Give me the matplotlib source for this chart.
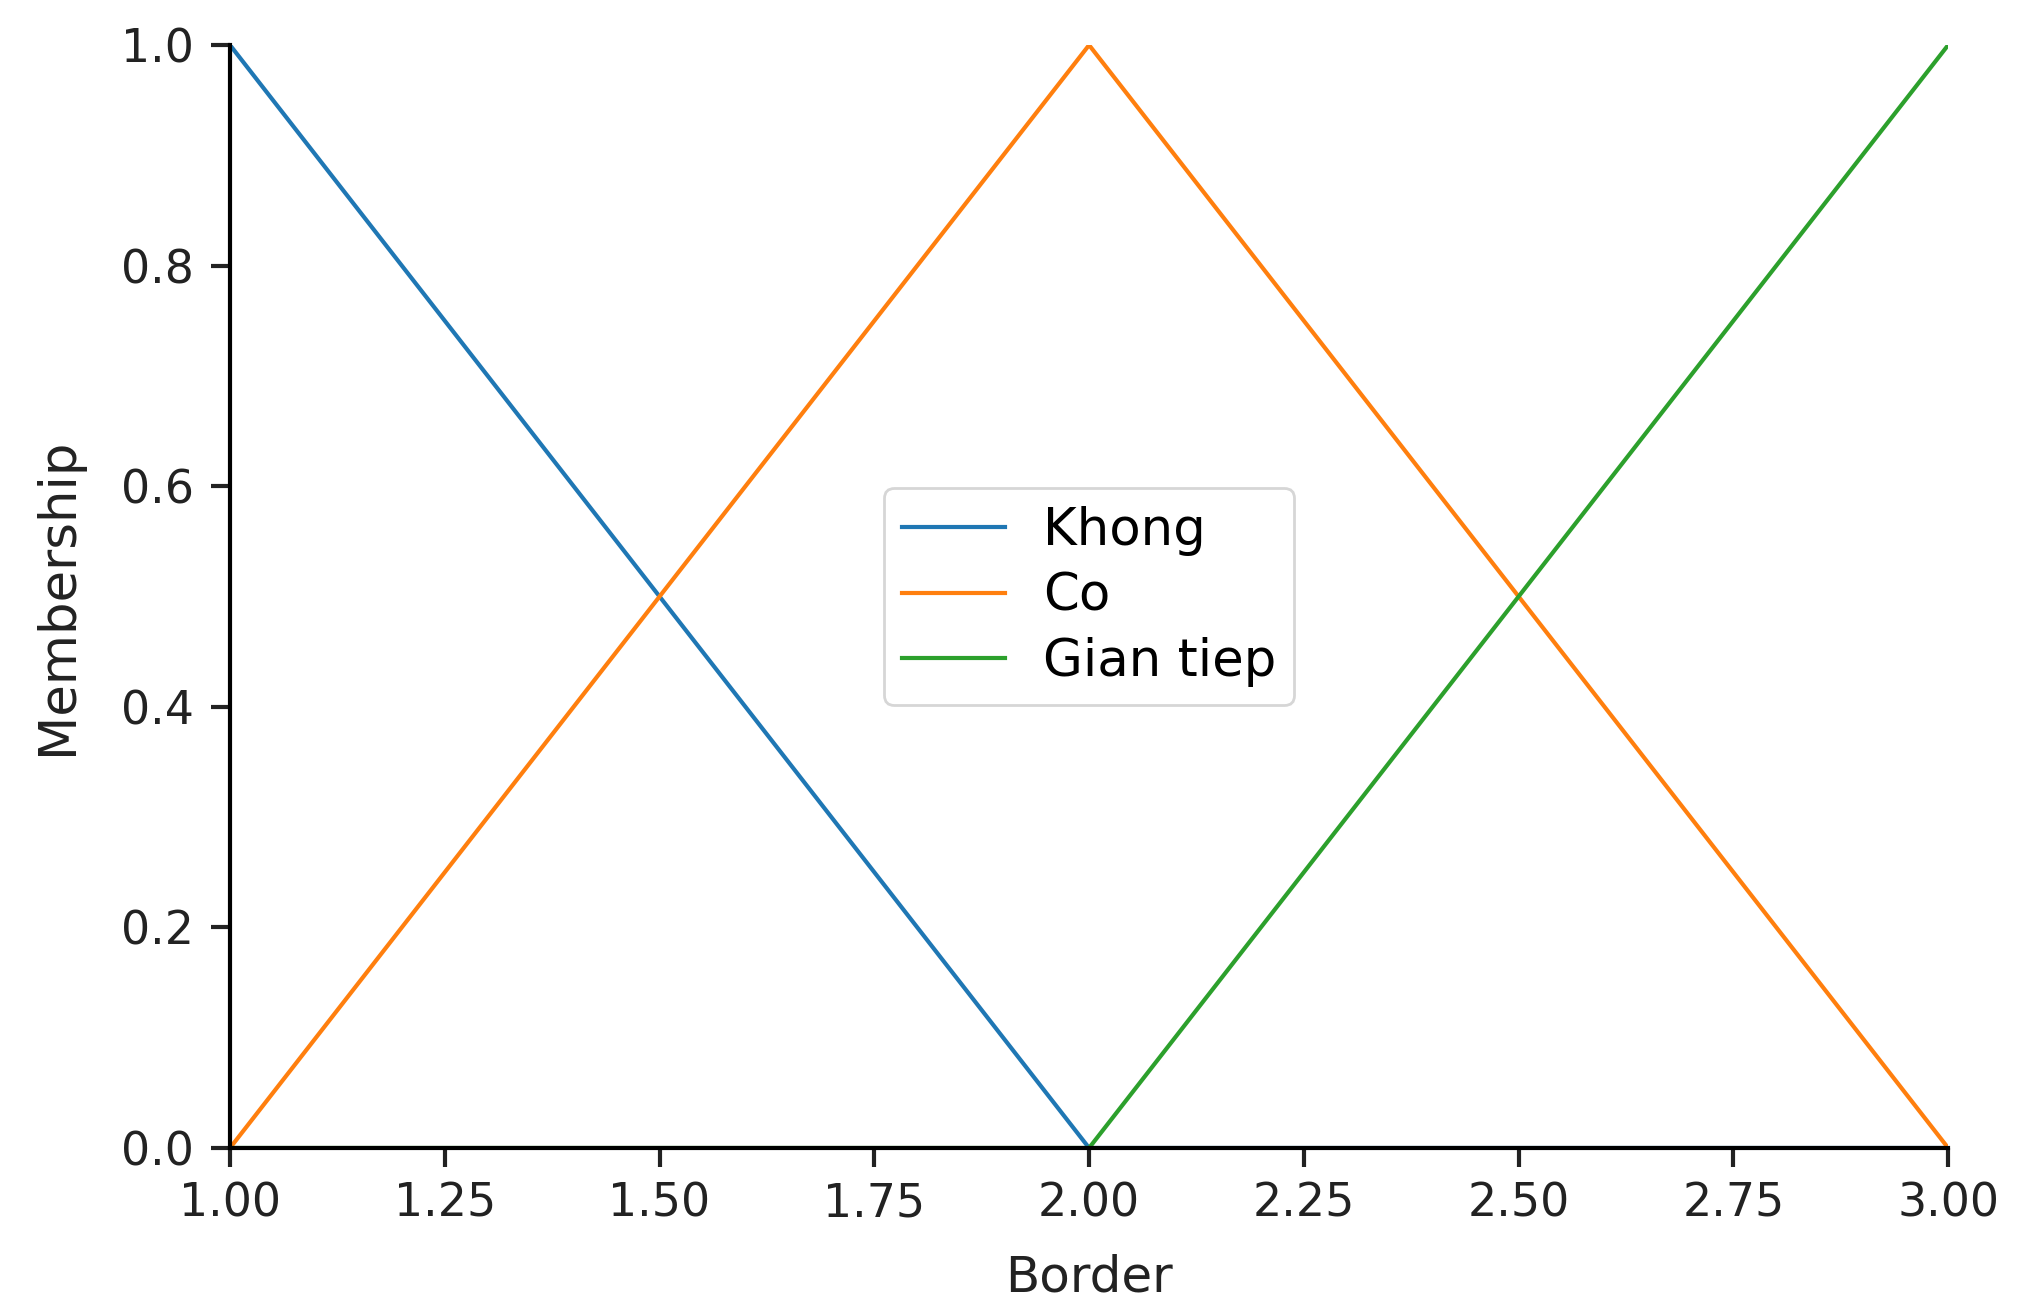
import matplotlib
matplotlib.use("Agg")
import matplotlib.pyplot as plt

# %% Dados
border = [1.00, 2.00, 3.00]
khong = [1.0, 0.0, 0.0]
co = [0.0, 1.0, 0.0]
gian_tiep = [0.0, 0.0, 1.0]

x_ticks = [1.00, 1.25, 1.50, 1.75, 2.00, 2.25, 2.50, 2.75, 3.00]
y_ticks = [0.0, 0.2, 0.4, 0.6, 0.8, 1.0]

# %% Grafico
plt.rcParams["font.family"] = ["DejaVu Sans"]
fig = plt.figure(figsize=(20.23, 13.06), dpi=100)
ax = fig.add_axes([0.1137, 0.121, 0.8493, 0.8445])

ax.plot(border, khong, color="#1f77b4", linewidth=3, label="Khong")
ax.plot(border, co, color="#ff7f0e", linewidth=3, label="Co")
ax.plot(border, gian_tiep, color="#2ca02c", linewidth=3, label="Gian tiep")

ax.set_xlim(1, 3)
ax.set_ylim(0, 1)
ax.set_xticks(x_ticks)
ax.set_xticklabels([f"{t:.2f}" for t in x_ticks])
ax.set_yticks(y_ticks)
ax.set_yticklabels([f"{t:.1f}" for t in y_ticks])

for side in ["top", "right"]:
    ax.spines[side].set_visible(False)
for side in ["left", "bottom"]:
    ax.spines[side].set_linewidth(3)
ax.tick_params(axis="both", labelsize=33, length=14, width=3, colors="#222222")
ax.tick_params(axis="x", pad=10)
ax.tick_params(axis="y", pad=12)

ax.set_xlabel("Border", fontsize=36, color="#222222", va="center")
ax.xaxis.set_label_coords(0.5, -0.117)
ax.set_ylabel("Membership", fontsize=37, color="#222222", va="center")
ax.yaxis.set_label_coords(-0.100, 0.5)

leg = ax.legend(loc="center", fontsize=37, frameon=True, handlelength=2.0,
                handletextpad=0.75, borderpad=0.35, labelspacing=0.3)
leg.get_frame().set_linewidth(2)

fig.savefig("out.png", dpi=100)
